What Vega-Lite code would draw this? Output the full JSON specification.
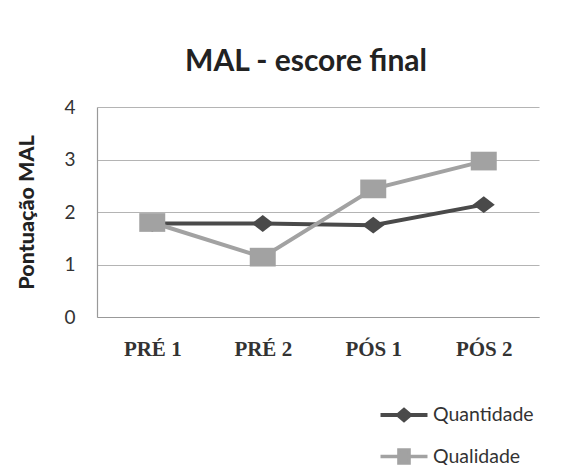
{
  "$schema": "https://vega.github.io/schema/vega-lite/v6.json",
  "width": 442,
  "height": 210,
  "autosize": {"type": "none"},
  "padding": {"left": 97, "top": 107, "right": 49, "bottom": 148},
  "background": "white",
  "title": {
    "text": "MAL - escore final",
    "font": "Lato",
    "fontSize": 30,
    "fontWeight": "bold",
    "color": "#222222",
    "anchor": "middle",
    "baseline": "alphabetic",
    "offset": -3,
    "dx": -12
  },
  "config": {
    "view": {"stroke": null},
    "font": "Lato"
  },
  "data": {
    "values": [
      {"fase": "PRÉ 1", "serie": "Quantidade", "valor": 1.78},
      {"fase": "PRÉ 2", "serie": "Quantidade", "valor": 1.78},
      {"fase": "PÓS 1", "serie": "Quantidade", "valor": 1.75},
      {"fase": "PÓS 2", "serie": "Quantidade", "valor": 2.14},
      {"fase": "PRÉ 1", "serie": "Qualidade", "valor": 1.80},
      {"fase": "PRÉ 2", "serie": "Qualidade", "valor": 1.14},
      {"fase": "PÓS 1", "serie": "Qualidade", "valor": 2.44},
      {"fase": "PÓS 2", "serie": "Qualidade", "valor": 2.97}
    ]
  },
  "encoding": {
    "x": {
      "field": "fase",
      "type": "ordinal",
      "sort": ["PRÉ 1", "PRÉ 2", "PÓS 1", "PÓS 2"],
      "scale": {"type": "point", "padding": 0.5},
      "axis": {
        "title": null,
        "labelAngle": 0,
        "labelFont": "Liberation Serif",
        "labelFontWeight": "bold",
        "labelFontSize": 21,
        "labelColor": "#333333",
        "labelPadding": 21,
        "ticks": false,
        "grid": false,
        "domainColor": "#999999",
        "domainWidth": 1.2
      }
    },
    "y": {
      "field": "valor",
      "type": "quantitative",
      "scale": {"domain": [0, 4]},
      "axis": {
        "title": "Pontuação MAL",
        "titleFont": "Lato",
        "titleFontSize": 21.5,
        "titleFontWeight": 900,
        "titleColor": "#222222",
        "titlePadding": 25,
        "values": [0, 1, 2, 3, 4],
        "labelFont": "Lato",
        "labelFontSize": 19,
        "labelColor": "#333333",
        "labelPadding": 22,
        "ticks": false,
        "grid": true,
        "gridColor": "#b4b4b4",
        "gridWidth": 1.2,
        "domainColor": "#999999",
        "domainWidth": 1.2
      }
    }
  },
  "layer": [
    {
      "mark": {"type": "line", "strokeWidth": 4},
      "encoding": {
        "color": {
          "field": "serie",
          "type": "nominal",
          "scale": {"domain": ["Quantidade", "Qualidade"], "range": ["#4a4a4a", "#a2a2a2"]},
          "legend": {
            "title": null,
            "orient": "none",
            "legendX": 293,
            "legendY": 294,
            "padding": 0,
            "symbolSize": 552,
            "symbolStrokeWidth": 3.5,
            "labelOffset": 15,
            "labelFont": "Lato",
            "labelFontSize": 19.5,
            "labelColor": "#333333",
            "rowPadding": 14,
            "encode": {
              "symbols": {
                "update": {
                  "shape": {"signal": "datum.value == 'Quantidade' ? 'M-2,0H2M-0.51,0L0,-0.43L0.51,0L0,0.43Z' : 'M-2,0H2M-0.43,-0.55H0.43V0.55H-0.43Z'"},
                  "fill": {"signal": "datum.value == 'Quantidade' ? '#4a4a4a' : '#a2a2a2'"},
                  "stroke": {"signal": "datum.value == 'Quantidade' ? '#4a4a4a' : '#a2a2a2'"},
                  "strokeWidth": {"value": 3.5},
                  "opacity": {"value": 1}
                }
              }
            }
          }
        },
        "strokeWidth": {
          "field": "serie",
          "type": "nominal",
          "scale": {"domain": ["Quantidade", "Qualidade"], "range": [4, 3.5]},
          "legend": null
        }
      }
    },
    {
      "transform": [{"filter": "datum.serie == 'Quantidade'"}],
      "mark": {"type": "point", "filled": true, "opacity": 1, "shape": "M-1,0L0,-0.77L1,0L0,0.77Z", "size": 484, "color": "#4a4a4a"}
    },
    {
      "transform": [{"filter": "datum.serie == 'Qualidade'"}],
      "mark": {"type": "point", "filled": true, "opacity": 1, "shape": "M-1,-0.72H1V0.72H-1Z", "size": 676, "color": "#a2a2a2"}
    }
  ]
}
